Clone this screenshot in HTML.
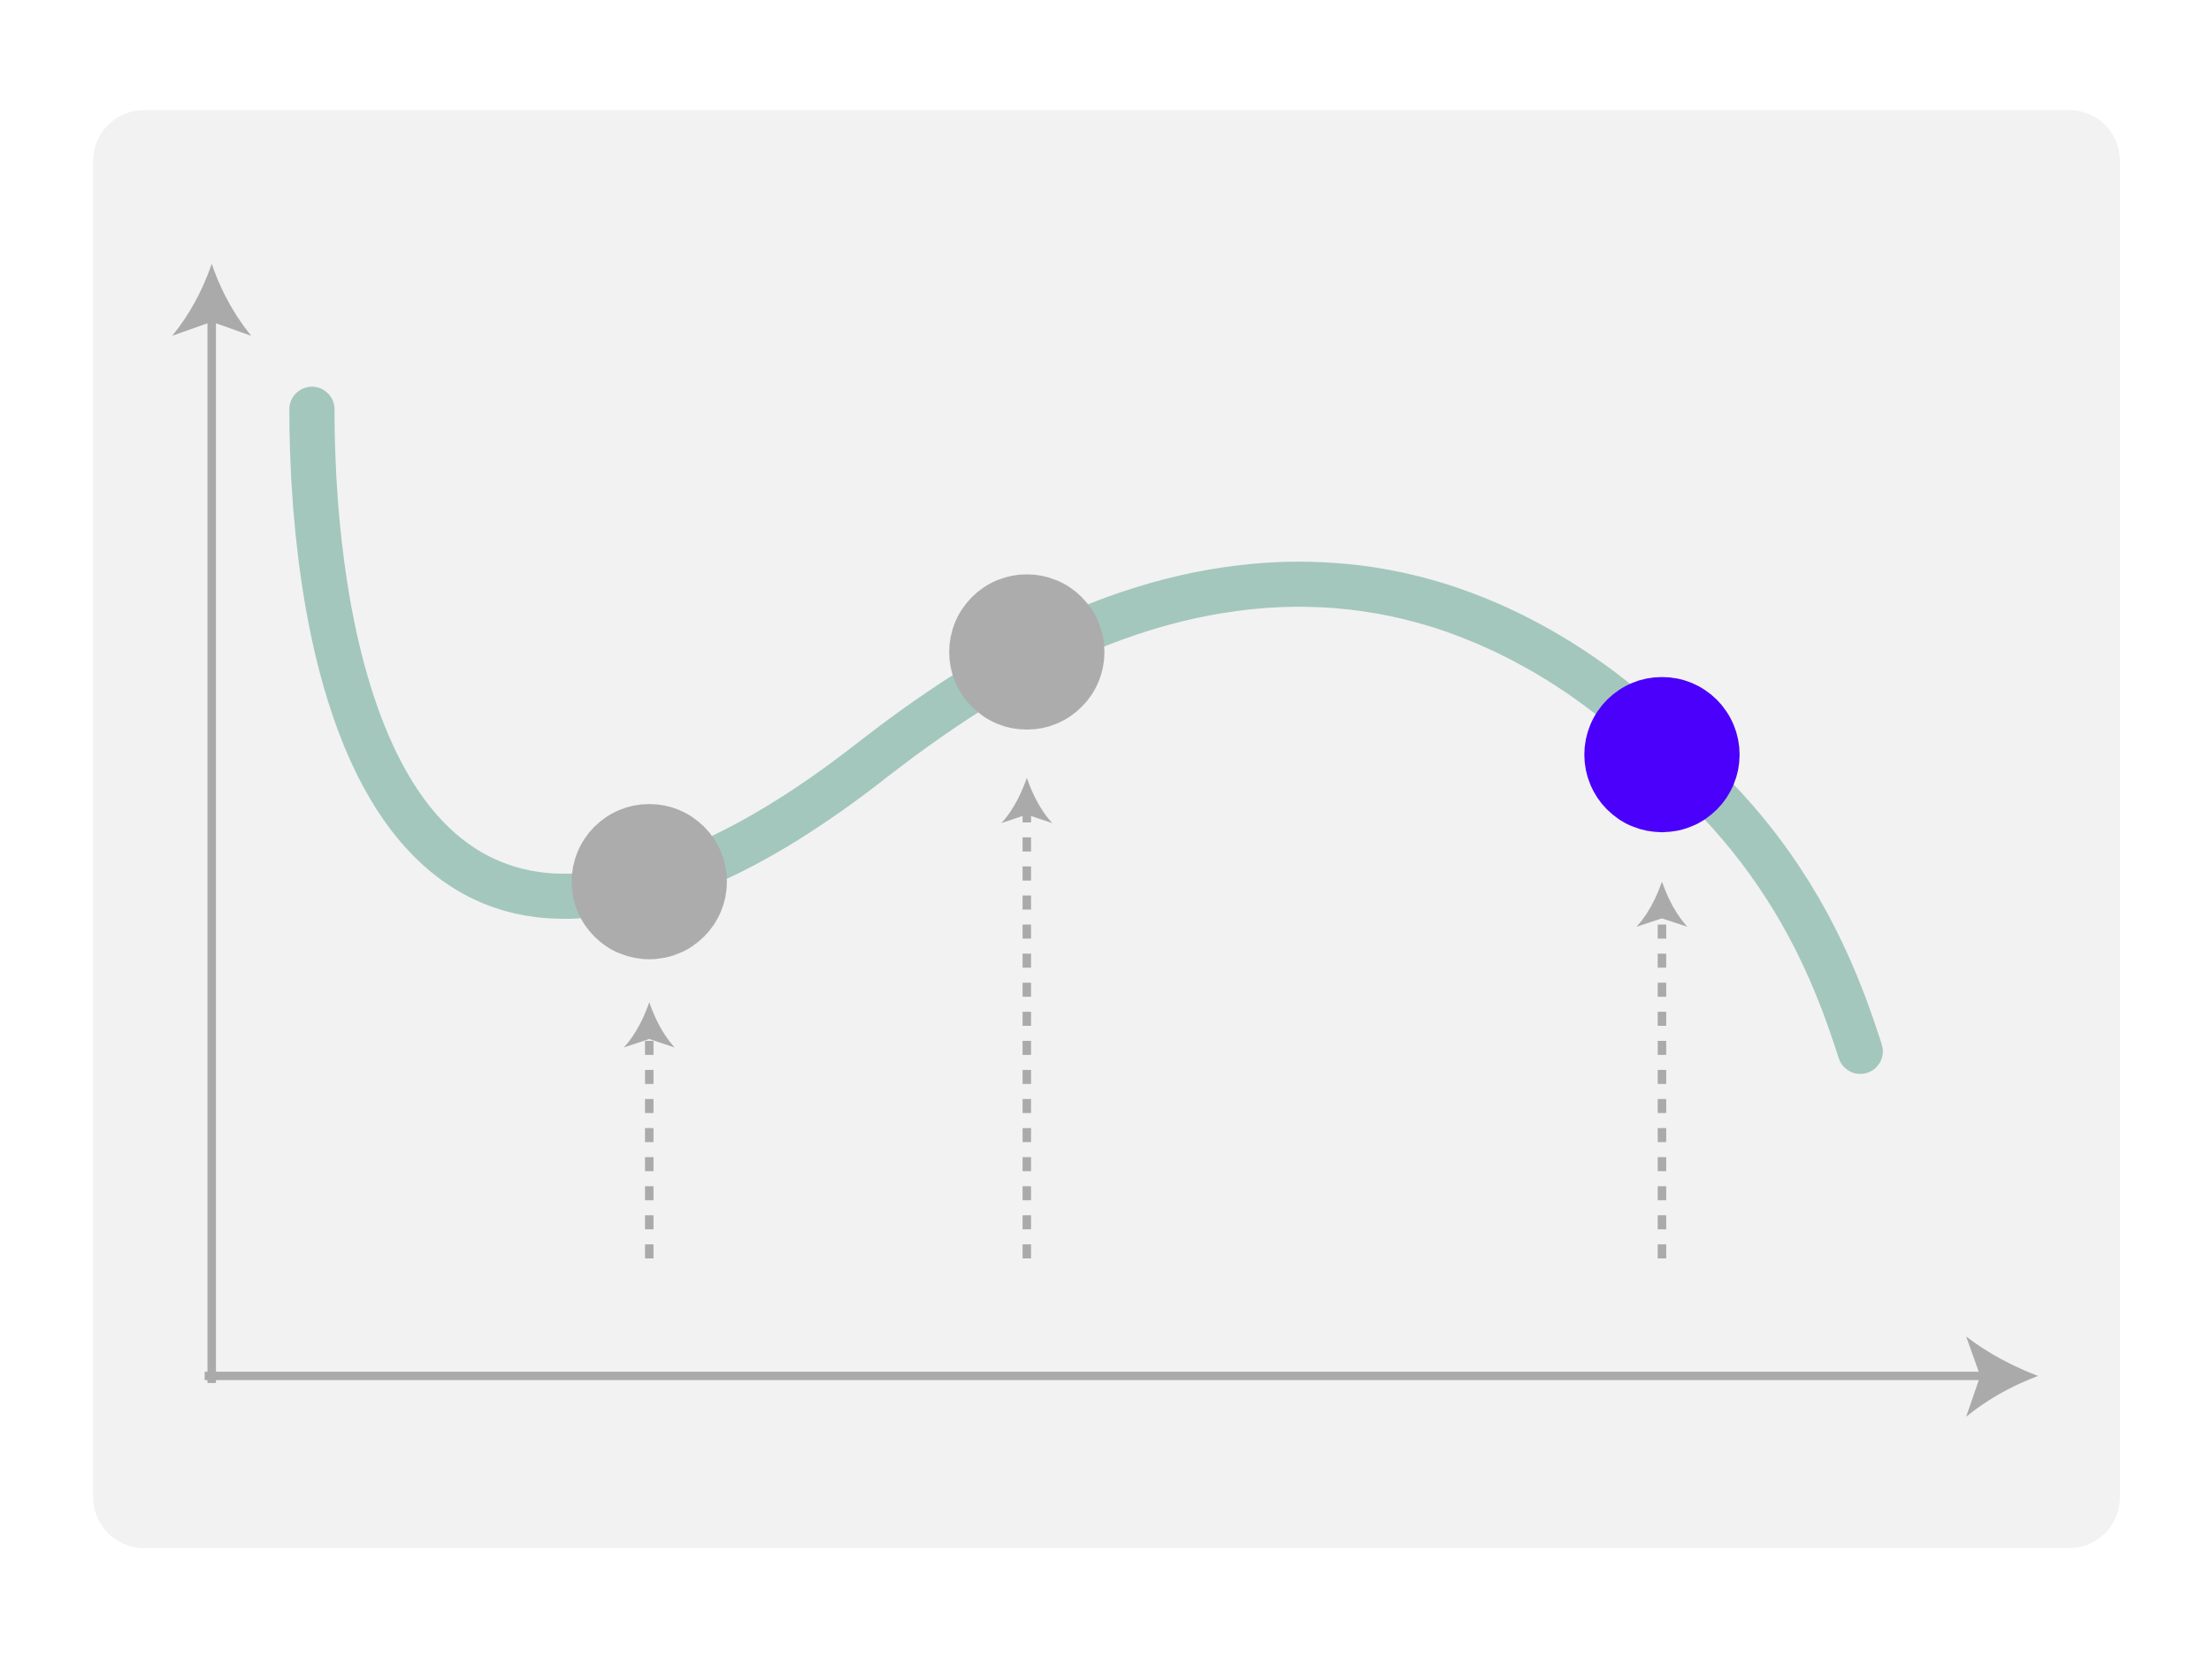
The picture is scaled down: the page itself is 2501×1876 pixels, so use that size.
<!DOCTYPE html>
<html>
<head>
<meta charset="utf-8">
<style>
html,body{margin:0;padding:0;background:#fff;}
svg{display:block;}
</style>
</head>
<body>
<svg id="chart" width="2501" height="1876" viewBox="0 0 1567.2 1175.6" preserveAspectRatio="none" xmlns="http://www.w3.org/2000/svg">
  <rect x="66" y="78" width="1436" height="1019" rx="36" fill="#f2f2f2"/>
  <g id="axes">
    <line x1="150" y1="980" x2="150" y2="226" stroke="#aaaaaa" stroke-width="6"/>
    <path d="M150,187 Q160,216 178,238 L150,228 L122,238 Q140,216 150,187 Z" fill="#aaaaaa"/>
    <line x1="145" y1="975" x2="1405" y2="975" stroke="#aaaaaa" stroke-width="6"/>
    <path d="M1444,975 Q1415,986 1393,1004 L1403,975 L1393,947 Q1415,964 1444,975 Z" fill="#aaaaaa"/>
  </g>
  <g id="marks"></g>
</svg>
<script>
// Data (abstract units: x 0..10, y 0..10); curve = start point + cubic segments (c1, c2, end)
const curveX = [0.568, 0.568, 0.8, 2.04, 2.56, 3.12, 3.76, 4.4, 5.2, 6.144, 7.2, 8.0, 8.48, 9.04, 9.24, 9.344];
const curveY = [9.133, 7.4, 4.467, 4.533, 4.56, 5.0, 5.84, 6.667, 7.467, 7.48, 7.493, 6.467, 5.533, 4.6, 3.6, 3.067];
const markerX = [2.48, 4.62, 8.22];
const markerY = [4.67, 6.84, 5.87];
const markerHighlight = [false, false, true];
const arrowTopY = [3.53, 5.65, 4.67];
const arrowBottomY = [1.11, 1.11, 1.11];

function xs(v){ return 150 + v*125; }
function ys(v){ return 975 - v*75; }

const NS = "http://www.w3.org/2000/svg";
const g = document.getElementById('marks');

let d = `M${xs(curveX[0])},${ys(curveY[0])}`;
for(let i=1;i+2<curveX.length;i+=3){
  d += ` C${xs(curveX[i])},${ys(curveY[i])} ${xs(curveX[i+1])},${ys(curveY[i+1])} ${xs(curveX[i+2])},${ys(curveY[i+2])}`;
}
const curve = document.createElementNS(NS,'path');
curve.setAttribute('d', d);
curve.setAttribute('fill','none');
curve.setAttribute('stroke','#a3c7bc');
curve.setAttribute('stroke-width','32');
curve.setAttribute('stroke-linecap','round');
curve.setAttribute('stroke-linejoin','round');


g.appendChild(curve);

markerX.forEach((mx,i)=>{
  const x = xs(mx), top = ys(arrowTopY[i]), bot = ys(arrowBottomY[i]);
  const line = document.createElementNS(NS,'line');
  line.setAttribute('x1',x); line.setAttribute('x2',x);
  line.setAttribute('y1',bot); line.setAttribute('y2',top+26);
  line.setAttribute('stroke','#aaaaaa');
  line.setAttribute('stroke-width','6');
  line.setAttribute('stroke-dasharray','10 10.6');
  
  
  g.appendChild(line);
  const head = document.createElementNS(NS,'path');
  head.setAttribute('d',`M${x},${top} Q${x+7},${top+20} ${x+18},${top+32} L${x},${top+26} L${x-18},${top+32} Q${x-7},${top+20} ${x},${top} Z`);
  head.setAttribute('fill','#aaaaaa');
  
  
  g.appendChild(head);
});

markerX.forEach((mx,i)=>{
  const c = document.createElementNS(NS,'circle');
  c.setAttribute('cx', xs(mx));
  c.setAttribute('cy', ys(markerY[i]));
  c.setAttribute('r', 55);
  c.setAttribute('fill', markerHighlight[i] ? '#4a00fb' : '#acacac');
  
  
  g.appendChild(c);
});
</script>
</body>
</html>
